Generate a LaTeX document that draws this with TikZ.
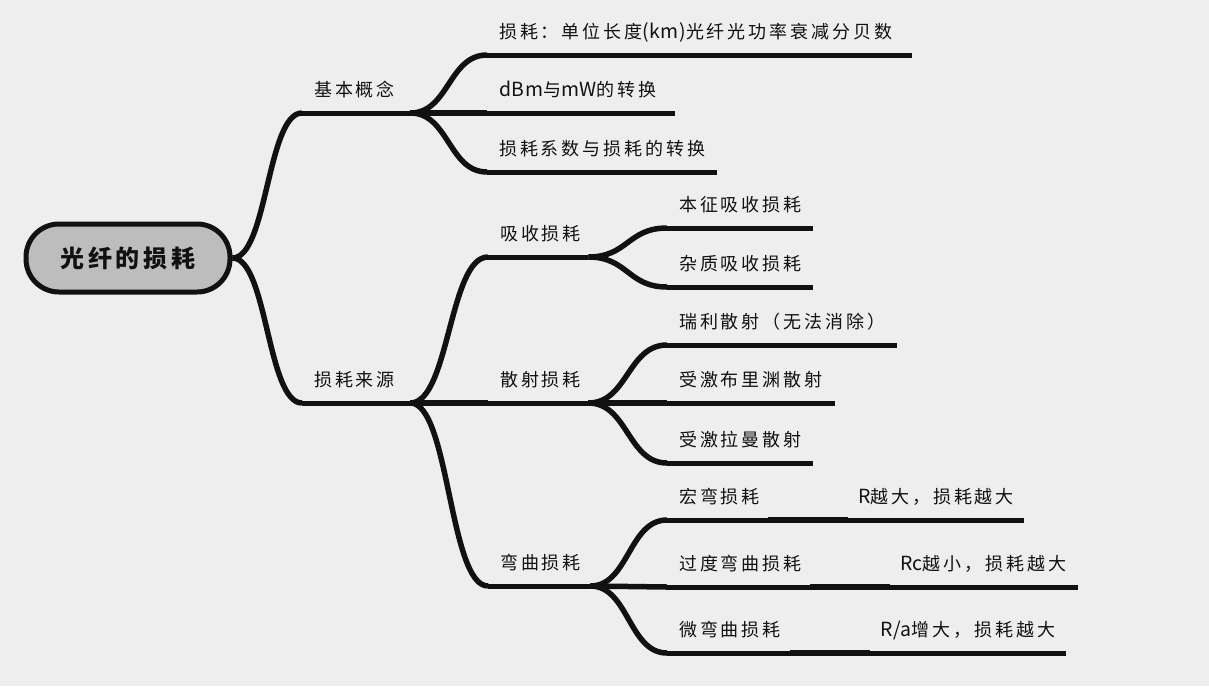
\documentclass[tikz,border=0pt]{standalone}
\usepackage{fontspec}
\setmainfont{Noto Sans CJK SC}[LetterSpace=16]
\newfontfamily\lat{Noto Sans CJK SC}[Scale=1.08, LetterSpace=3]
\usetikzlibrary{calc}
\definecolor{bgcol}{HTML}{EEEEEE}
\definecolor{rootfill}{HTML}{BDBDBD}
\definecolor{ink}{HTML}{111111}
\newcommand\linkto[2]{%
  \path ($(#1)!0.5!(#2)$) coordinate (mid);
  \draw[conn] (#1) .. controls (mid |- #1) and (mid |- #2) .. (#2);}
\begin{document}
\begin{tikzpicture}[x=1pt,y=-1pt,
  topic/.style={anchor=south west, inner xsep=12pt, inner ysep=11pt,
    text height=13pt, text depth=5pt, align=left, text=ink,
    font=\fontsize{18}{20}\selectfont},
  uline/.style={line width=5pt, draw=ink},
  conn/.style={line width=5.5pt, draw=ink},
  root/.style={draw=ink, line width=5pt, fill=rootfill, rounded corners=33pt,
    minimum width=204pt, minimum height=68pt, text=ink,
    font=\bfseries\fontsize{24}{26}\selectfont}
]
\fill[bgcol] (0,0) rectangle (1209,686);
\useasboundingbox (0,0) rectangle (1209,686);

% root
\node[root] (r) at (128,258) {光纤的损耗};

% level 1
\node[topic, text width=84pt] (k0) at (302,113) {基本概念};
\node[topic, text width=84pt] (s0) at (302,403) {损耗来源};

% basic concepts
\node[topic, text width=401pt] (k1) at (487,55) {损耗：单位长度{\lat (km)}光纤光功率衰减分贝数};
\node[topic, text width=164pt] (k2) at (487,113) {{\lat dBm}与{\lat mW}的转换};
\node[topic, text width=206pt] (k3) at (487,172) {损耗系数与损耗的转换};

% sources
\node[topic, text width=76pt] (a0) at (488,257) {吸收损耗};
\node[topic, text width=76pt] (b0) at (488,403) {散射损耗};
\node[topic, text width=78pt] (c0) at (488,586) {弯曲损耗};

\node[topic, text width=122pt] (a1) at (667,228) {本征吸收损耗};
\node[topic, text width=122pt] (a2) at (667,287) {杂质吸收损耗};

\node[topic, text width=206pt] (b1) at (667,345) {瑞利散射（无法消除）};
\node[topic, text width=144pt] (b2) at (667,403) {受激布里渊散射};
\node[topic, text width=122pt] (b3) at (667,463) {受激拉曼散射};

\node[topic, text width=77pt] (c1) at (667,520) {宏弯损耗};
\node[topic, text width=119pt] (c2) at (667,587) {过度弯曲损耗};
\node[topic, text width=99pt] (c3) at (667,653) {微弯曲损耗};

\node[topic, text width=156pt, inner xsep=10pt] (c1a) at (848,520) {{\lat R}越大，损耗越大};
\node[topic, text width=168pt, inner xsep=10pt] (c2a) at (890,587) {{\lat Rc}越小，损耗越大};
\node[topic, text width=176pt, inner xsep=10pt] (c3a) at (870,653) {{\lat R/a}增大，损耗越大};

% underlines
\foreach \n in {k0,s0,k1,k2,k3,a0,b0,c0,a1,a2,b1,b2,b3,c1,c2,c3,c1a,c2a,c3a}
  \draw[uline] (\n.south west) -- (\n.south east);

% connectors
\linkto{r.east}{k0.south west}
\linkto{r.east}{s0.south west}
\linkto{k0.south east}{k1.south west}
\linkto{k0.south east}{k2.south west}
\linkto{k0.south east}{k3.south west}
\linkto{s0.south east}{a0.south west}
\linkto{s0.south east}{b0.south west}
\linkto{s0.south east}{c0.south west}
\linkto{a0.south east}{a1.south west}
\linkto{a0.south east}{a2.south west}
\linkto{b0.south east}{b1.south west}
\linkto{b0.south east}{b2.south west}
\linkto{b0.south east}{b3.south west}
\linkto{c0.south east}{c1.south west}
\linkto{c0.south east}{c2.south west}
\linkto{c0.south east}{c3.south west}
\draw[conn] (c1.south east) -- (c1a.south west);
\draw[conn] (c2.south east) -- (c2a.south west);
\draw[conn] (c3.south east) -- (c3a.south west);
\end{tikzpicture}
\end{document}
